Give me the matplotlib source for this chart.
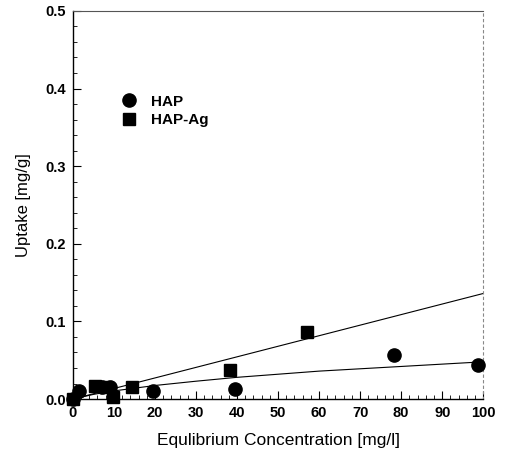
import matplotlib
matplotlib.use("Agg")
import matplotlib.pyplot as plt
from matplotlib.ticker import MultipleLocator

plt.rcParams['font.family'] = ['Liberation Sans', 'DejaVu Sans']

# Data
hap_x = [0.0, 1.6, 7.0, 9.0, 19.6, 39.5, 78.3, 98.8]
hap_y = [0.0, 0.010, 0.015, 0.016, 0.011, 0.013, 0.057, 0.044]
hapag_x = [0.0, 5.5, 8.0, 9.8, 14.5, 38.3, 57.1]
hapag_y = [0.0, 0.017, 0.015, 0.003, 0.015, 0.038, 0.086]

# Fit curves
fit_ag_x = [0, 100]
fit_ag_y = [0.0, 0.136]
fit_hap_x = [0, 5, 10, 20, 30, 40, 50, 60, 70, 80, 90, 100]
fit_hap_y = [0.0, 0.006, 0.0105, 0.0175, 0.023, 0.028, 0.032, 0.036, 0.039, 0.042, 0.045, 0.048]

xticks = [0, 10, 20, 30, 40, 50, 60, 70, 80, 90, 100]
yticks = [0.0, 0.1, 0.2, 0.3, 0.4, 0.5]

fig = plt.figure(figsize=(5.06, 4.54), dpi=100)
ax = fig.add_axes([0.144, 0.121, 0.811, 0.855])

ax.plot(fit_ag_x, fit_ag_y, color='black', lw=0.8, clip_on=False)
ax.plot(fit_hap_x, fit_hap_y, color='black', lw=0.8, clip_on=False)
ax.plot(hap_x, hap_y, 'o', color='black', ms=9.5, clip_on=False, label='HAP', zorder=3)
ax.plot(hapag_x, hapag_y, 's', color='black', ms=8.5, clip_on=False, label='HAP-Ag', zorder=3)

ax.set_xlim(0, 100)
ax.set_ylim(0, 0.5)
ax.set_xticks(xticks)
ax.set_yticks(yticks)
ax.set_xticklabels([str(v) for v in xticks], fontweight='bold', fontsize=10.5)
ax.set_yticklabels([f"{v:.1f}" for v in yticks], fontweight='bold', fontsize=10.5)
ax.xaxis.set_minor_locator(MultipleLocator(2))
ax.yaxis.set_minor_locator(MultipleLocator(0.02))
ax.tick_params(which='major', direction='in', length=6, width=0.8, pad=5)
ax.tick_params(which='minor', direction='in', length=3, width=0.6)

for s in ['left', 'bottom']:
    ax.spines[s].set_linewidth(1.0)
ax.spines['top'].set_linewidth(0.8)
ax.spines['top'].set_color('#555555')
ax.spines['right'].set_linewidth(0.8)
ax.spines['right'].set_color('#888888')
ax.spines['right'].set_linestyle((0, (2, 3)))

ax.set_xlabel('Equlibrium Concentration [mg/l]', fontsize=12.5, labelpad=9)
ax.set_ylabel('Uptake [mg/g]', fontsize=12, labelpad=10)

leg = ax.legend(loc='upper left', bbox_to_anchor=(0.10, 0.80), frameon=False,
                handletextpad=0.8, labelspacing=0.3, borderaxespad=0,
                prop={'weight': 'bold', 'size': 11}, numpoints=1, handlelength=1.2)

fig.savefig('out.png', dpi=100)
